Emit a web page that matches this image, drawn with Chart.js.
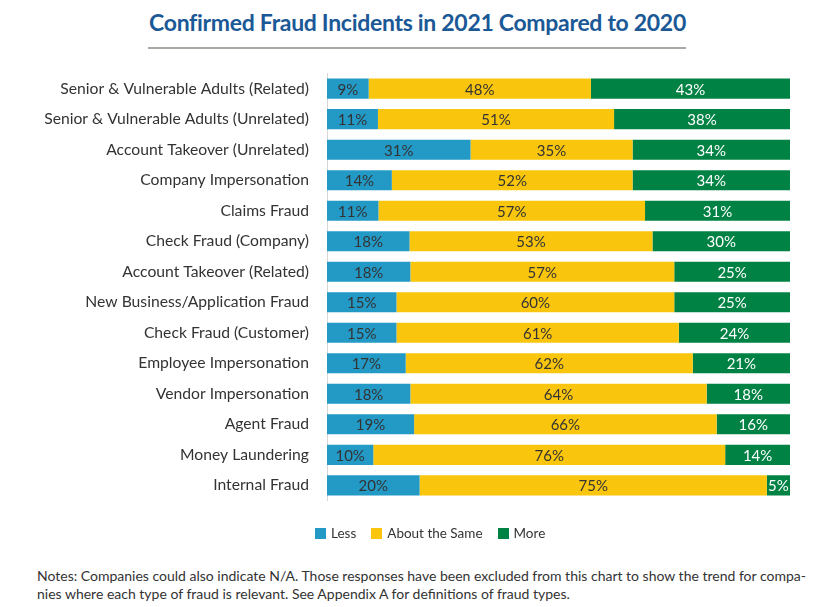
<!DOCTYPE html>
<html>
<head>
<meta charset="utf-8">
<script src="https://cdn.jsdelivr.net/npm/chart.js@4/dist/chart.umd.min.js"></script>
<style>
  html, body { margin: 0; padding: 0; background: #fff; }
  body { width: 835px; height: 607px; position: relative; overflow: hidden; font-family: Lato, "Noto Sans", sans-serif; }
  #title { position: absolute; left: 0; top: 8px; width: 835px; text-align: center; font-weight: bold; font-size: 23px; color: #1a5896; letter-spacing: -0.3px; }
  #rule { position: absolute; left: 148px; top: 47px; width: 538px; height: 2px; background: #a9a9a4; }
  #wrap { position: absolute; left: 0; top: 46px; width: 835px; height: 482px; }
  #legend { position: absolute; left: 315px; top: 525px; display: flex; align-items: center; font-size: 13.5px; color: #333; }
  #legend span.box { display: inline-block; width: 11px; height: 11px; margin-right: 5px; }
  #legend .item { display: flex; align-items: center; margin-right: 15px; }
  #notes { position: absolute; left: 37px; top: 567px; font-size: 14px; line-height: 17.5px; color: #333; }
</style>
</head>
<body>
<div id="title">Confirmed Fraud Incidents in 2021 Compared to 2020</div>
<div id="rule"></div>
<div id="wrap"><canvas id="chart"></canvas></div>
<div id="legend"></div>
<div id="notes">Notes: Companies could also indicate N/A. Those responses have been excluded from this chart to show the trend for compa-<br>nies where each type of fraud is relevant. See Appendix A for definitions of fraud types.</div>
<script>
const categories = [
  "Senior & Vulnerable Adults (Related)",
  "Senior & Vulnerable Adults (Unrelated)",
  "Account Takeover (Unrelated)",
  "Company Impersonation",
  "Claims Fraud",
  "Check Fraud (Company)",
  "Account Takeover (Related)",
  "New Business/Application Fraud",
  "Check Fraud (Customer)",
  "Employee Impersonation",
  "Vendor Impersonation",
  "Agent Fraud",
  "Money Laundering",
  "Internal Fraud"
];
const less = [9, 11, 31, 14, 11, 18, 18, 15, 15, 17, 18, 19, 10, 20];
const aboutSame = [48, 51, 35, 52, 57, 53, 57, 60, 61, 62, 64, 66, 76, 75];
const more = [43, 38, 34, 34, 31, 30, 25, 25, 24, 21, 18, 16, 14, 5];

const seriesNames = ["Less", "About the Same", "More"];
const seriesColors = ["#2399c6", "#f9c60d", "#008245"];

// rounded shares don't always add to 100, bars in the original all fill the row
const rowTotals = categories.map((c, i) => less[i] + aboutSame[i] + more[i]);
const toShare = arr => arr.map((v, i) => v / rowTotals[i] * 100);
const rawValues = [less, aboutSame, more];

// draws the % inside each segment
const valueLabels = {
  id: "valueLabels",
  afterDatasetsDraw(chart) {
    const ctx = chart.ctx;
    ctx.save();
    ctx.font = "15px Lato, 'Noto Sans', sans-serif";
    ctx.textAlign = "center";
    ctx.textBaseline = "middle";
    chart.data.datasets.forEach((ds, i) => {
      const meta = chart.getDatasetMeta(i);
      meta.data.forEach((bar, j) => {
        const x = (bar.x + bar.base) / 2;
        ctx.fillStyle = i === 2 ? "#ffffff" : "#333333";
        ctx.fillText(rawValues[i][j] + "%", x, bar.y + 1);
      });
    });
    ctx.restore();
  }
};

new Chart(document.getElementById("chart"), {
  type: "bar",
  data: {
    labels: categories,
    datasets: [
      { label: seriesNames[0], data: toShare(less), backgroundColor: seriesColors[0] },
      { label: seriesNames[1], data: toShare(aboutSame), backgroundColor: seriesColors[1] },
      { label: seriesNames[2], data: toShare(more), backgroundColor: seriesColors[2] }
    ]
  },
  options: {
    indexAxis: "y",
    responsive: true,
    maintainAspectRatio: false,
    animation: false,
    barPercentage: 0.66,
    categoryPercentage: 1,
    layout: { padding: { top: 0, right: 45, left: 0, bottom: 0 } },
    plugins: {
      legend: { display: false },
      tooltip: { enabled: false },
      title: { display: false }
    },
    scales: {
      x: {
        stacked: true,
        min: 0,
        max: 100,
        display: false
      },
      y: {
        stacked: true,
        grid: { display: false, drawTicks: false },
        border: { display: true, color: "#d6d6d6", width: 1 },
        ticks: {
          color: "#333",
          font: { size: 15.7, family: "Lato, 'Noto Sans', sans-serif" },
          padding: 18
        },
        afterFit(scale) { scale.width = 327; }
      }
    }
  },
  plugins: [valueLabels]
});

// simple html legend
const legendEl = document.getElementById("legend");
seriesNames.forEach((name, i) => {
  const item = document.createElement("div");
  item.className = "item";
  item.innerHTML = `<span class="box" style="background:${seriesColors[i]}"></span>${name}`;
  legendEl.appendChild(item);
});
</script>
</body>
</html>
